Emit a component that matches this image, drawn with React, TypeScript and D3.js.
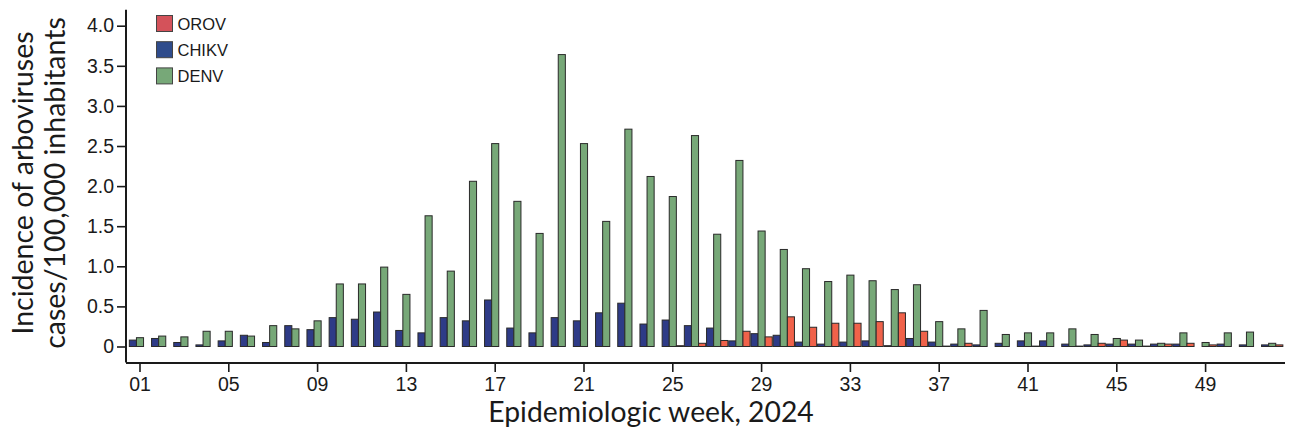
import { useEffect, useRef } from 'react';
import * as d3 from 'd3';

// Epidemiologic weeks 1..52
const weeks = d3.range(1, 53).map((w) => String(w).padStart(2, '0'));
const tickWeeks = ['01', '05', '09', '13', '17', '21', '25', '29', '33', '37', '41', '45', '49'];
const yTicks = [0, 0.5, 1, 1.5, 2, 2.5, 3, 3.5, 4];

const series = ['CHIKV', 'DENV', 'OROV'];
const legendOrder = ['OROV', 'CHIKV', 'DENV'];

const chikv = [
	0.08, 0.1, 0.05, 0.02, 0.07, 0.14, 0.05, 0.26, 0.21, 0.36, 0.34, 0.43, 0.2, 0.17, 0.36, 0.32, 0.58, 0.23,
	0.17, 0.36, 0.32, 0.42, 0.54, 0.28, 0.33, 0.26, 0.23, 0.07, 0.16, 0.14, 0.055, 0.03, 0.055, 0.07, 0.01, 0.1,
	0.055, 0.03, 0.02, 0.04, 0.07, 0.07, 0.03, 0.02, 0.03, 0.03, 0.03, 0.03, 0, 0.03, 0.02, 0.02,
];
const denv = [
	0.11, 0.13, 0.12, 0.19, 0.19, 0.13, 0.26, 0.22, 0.32, 0.78, 0.78, 0.99, 0.65, 1.63, 0.94, 2.06, 2.53, 1.81,
	1.41, 3.64, 2.53, 1.56, 2.71, 2.12, 1.87, 2.63, 1.4, 2.32, 1.44, 1.21, 0.97, 0.81, 0.89, 0.82, 0.71, 0.77,
	0.31, 0.22, 0.45, 0.15, 0.17, 0.17, 0.22, 0.15, 0.1, 0.08, 0.04, 0.17, 0.05, 0.17, 0.18, 0.04,
];
const orov = [
	0, 0, 0, 0, 0, 0, 0, 0, 0, 0, 0, 0, 0, 0, 0, 0, 0, 0, 0, 0, 0, 0, 0, 0, 0.01, 0.04, 0.075, 0.19, 0.12, 0.37,
	0.24, 0.29, 0.29, 0.31, 0.42, 0.19, 0.005, 0.04, 0, 0, 0.005, 0, 0.005, 0.04, 0.08, 0.005, 0.03, 0.04, 0.02, 0,
	0, 0.02,
];

const barColors: Record<string, string> = { CHIKV: '#2e3b87', DENV: '#77a878', OROV: '#f0624a' };
const legendColors: Record<string, string> = { CHIKV: '#2f4c8c', DENV: '#77a878', OROV: '#d4525a' };

const W = 1294;
const H = 434;

export default function App() {
	const svgRef = useRef<SVGSVGElement>(null);

	useEffect(() => {
		if (!svgRef.current) return;
		const svg = d3.select(svgRef.current);
		svg.selectAll('*').remove();

		const values: Record<string, number[]> = { CHIKV: chikv, DENV: denv, OROV: orov };
		const rows = weeks.map((wk, i) => ({ wk, vals: series.map((s) => ({ key: s, value: values[s][i] })) }));

		const x = d3.scaleBand<string>().domain(weeks).range([128.9, 1283.3]).paddingInner(0.04).paddingOuter(0.02);
		const xSub = d3.scaleBand<string>().domain(series).range([0, x.bandwidth()]);
		const y = d3.scaleLinear().domain([0, 4]).range([346.5, 25.7]);

		const axisColor = '#1a1a1a';

		// bars
		const groups = svg
			.append('g')
			.selectAll('g')
			.data(rows)
			.join('g')
			.attr('transform', (d) => `translate(${x(d.wk)},0)`);

		groups
			.selectAll('rect')
			.data((d) => d.vals.filter((v) => v.value > 0))
			.join('rect')
			.attr('x', (d) => xSub(d.key)!)
			.attr('width', xSub.bandwidth())
			.attr('y', (d) => y(d.value))
			.attr('height', (d) => y(0) - y(d.value))
			.attr('fill', (d) => barColors[d.key])
			.attr('stroke', '#2a2a2a')
			.attr('stroke-width', 1);

		// y axis
		const yAxis = svg
			.append('g')
			.attr('transform', 'translate(126,0)')
			.call(
				d3
					.axisLeft(y)
					.tickValues(yTicks)
					.tickSize(9)
					.tickPadding(3)
					.tickFormat((d) => (+d === 0 ? '0' : d3.format('.1f')(d as number)))
			);
		yAxis.select('.domain').remove();
		yAxis.selectAll('line').attr('stroke', axisColor).attr('stroke-width', 1.6);
		yAxis
			.selectAll('text')
			.attr('fill', axisColor)
			.style('font-family', '"Liberation Sans", Arial, sans-serif')
			.style('font-size', '19.5px');
		yAxis
			.append('line')
			.attr('y1', y(-0.2))
			.attr('y2', y(4.2))
			.attr('stroke', axisColor)
			.attr('stroke-width', 2);

		// x axis
		const xAxis = svg
			.append('g')
			.attr('transform', 'translate(0,363)')
			.call(d3.axisBottom(x).tickValues(tickWeeks).tickSize(9).tickPadding(5));
		xAxis.select('.domain').remove();
		xAxis.selectAll('line').attr('stroke', axisColor).attr('stroke-width', 1.6);
		xAxis
			.selectAll('text')
			.attr('fill', axisColor)
			.style('font-family', '"Liberation Sans", Arial, sans-serif')
			.style('font-size', '19.5px');
		xAxis
			.append('line')
			.attr('x1', 126)
			.attr('x2', 1285)
			.attr('stroke', axisColor)
			.attr('stroke-width', 2);

		// axis titles
		svg
			.append('text')
			.attr('x', 651)
			.attr('y', 422)
			.attr('text-anchor', 'middle')
			.attr('fill', axisColor)
			.style('font-family', 'Lato, sans-serif')
			.style('font-size', '28.3px')
			.text('Epidemiologic week, 2024');

		const yTitle = svg
			.append('text')
			.attr('transform', 'translate(0,183) rotate(-90)')
			.attr('text-anchor', 'middle')
			.attr('fill', axisColor)
			.style('font-family', 'Lato, sans-serif')
			.style('font-size', '28.5px');
		yTitle.append('tspan').attr('x', 0).attr('y', 33).text('Incidence of arboviruses');
		yTitle.append('tspan').attr('x', 0).attr('y', 65).text('cases/100,000 inhabitants');

		// legend
		const legend = svg
			.append('g')
			.attr('transform', 'translate(156.5,15.5)')
			.selectAll('g')
			.data(legendOrder)
			.join('g')
			.attr('transform', (_, i) => `translate(0,${i * 26.2})`);
		legend
			.append('rect')
			.attr('width', 16)
			.attr('height', 16)
			.attr('fill', (d) => legendColors[d])
			.attr('stroke', '#444')
			.attr('stroke-width', 1);
		legend
			.append('text')
			.attr('x', 21)
			.attr('y', 14.5)
			.attr('fill', axisColor)
			.style('font-family', '"Liberation Sans", Arial, sans-serif')
			.style('font-size', '16.5px')
			.text((d) => d);
	}, []);

	return (
		<svg
			ref={svgRef}
			width={W}
			height={H}
			style={{ position: 'absolute', left: 0, top: 0, background: '#fff' }}
		></svg>
	);
}
